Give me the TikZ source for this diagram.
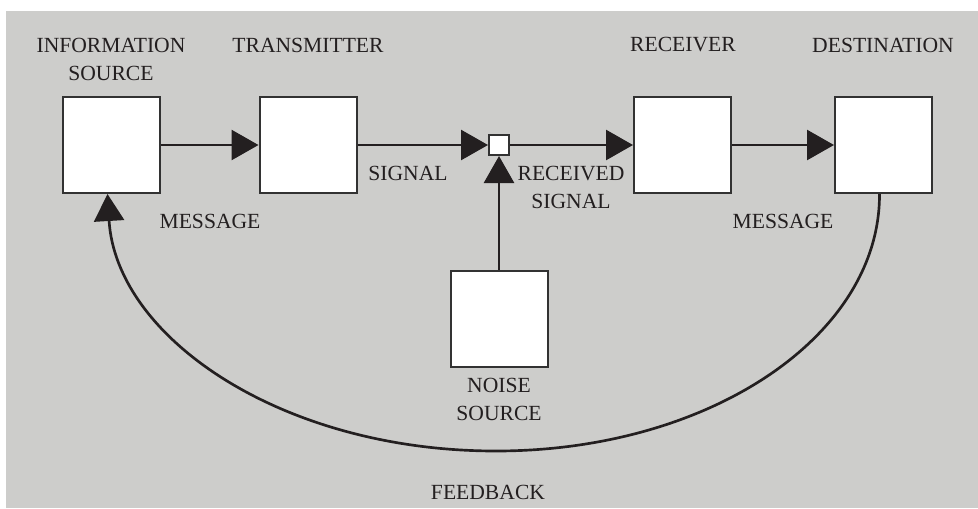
\documentclass[tikz,border=0pt]{standalone}
\usepackage{xcolor}
\usepackage{tikz}
\usepackage{fontspec}
\setmainfont{Liberation Serif}
\usetikzlibrary{arrows.meta}

\definecolor{panelgray}{RGB}{205,205,203}
\definecolor{inkline}{RGB}{35,31,32}
\definecolor{boxedge}{RGB}{50,50,50}

\begin{document}
\begin{tikzpicture}[x=0.75pt,y=0.75pt,yscale=-1,xscale=1,
    blockbox/.style={draw=boxedge, fill=white, line width=1.5pt, minimum width=72.75pt, minimum height=72pt, inner sep=0pt},
    sumbox/.style={draw=boxedge, fill=white, line width=1.5pt, minimum size=15pt, inner sep=0pt},
    lbl/.style={align=center, inner sep=0pt, text=inkline, font=\fontsize{16.2}{21}\selectfont},
    flow/.style={draw=inkline, line width=2pt, -{Triangle[length=20.25pt,width=22.5pt]}}]

        \useasboundingbox (0,0) rectangle (978,508);
        \fill [panelgray] (6,11) rectangle (978,508);

        % blocks
        \node (info) at (111.5,145) [blockbox] {};
        \node (trans) at (308,145) [blockbox] {};
        \node (sum) at (499,145) [sumbox] {};
        \node (recv) at (682.5,145) [blockbox] {};
        \node (dest) at (883.5,145) [blockbox] {};
        \node (noise) at (499,318.5) [blockbox] {};

        % flow
        \draw [flow] (info) -- (trans);
        \draw [flow] (trans) -- (sum);
        \draw [flow] (sum) -- (recv);
        \draw [flow] (recv) -- (dest);
        \draw [flow] (noise) -- (sum);
        \draw [flow] ([xshift=-3pt]dest.south) .. controls (880,337) and (708,451) .. (496,451) .. controls (281,451) and (116,337) .. ([xshift=-3pt]info.south);

        % labels
        \node (infolbl) at (111,59) [lbl] {INFORMATION\\SOURCE};
        \node (translbl) at (308,45) [lbl] {TRANSMITTER};
        \node (recvlbl) at (683,45) [lbl] {RECEIVER};
        \node (destlbl) at (883,45) [lbl] {DESTINATION};
        \node (msgleft) at (210,221) [lbl] {MESSAGE};
        \node (siglbl) at (408,173) [lbl] {SIGNAL};
        \node (rsiglbl) at (571,187.5) [lbl] {RECEIVED\\SIGNAL};
        \node (msgright) at (783,221) [lbl] {MESSAGE};
        \node (noiselbl) at (499,399) [lbl] {NOISE\\SOURCE};
        \node (fblbl) at (488,492) [lbl] {FEEDBACK};
    \end{tikzpicture}
\end{document}
